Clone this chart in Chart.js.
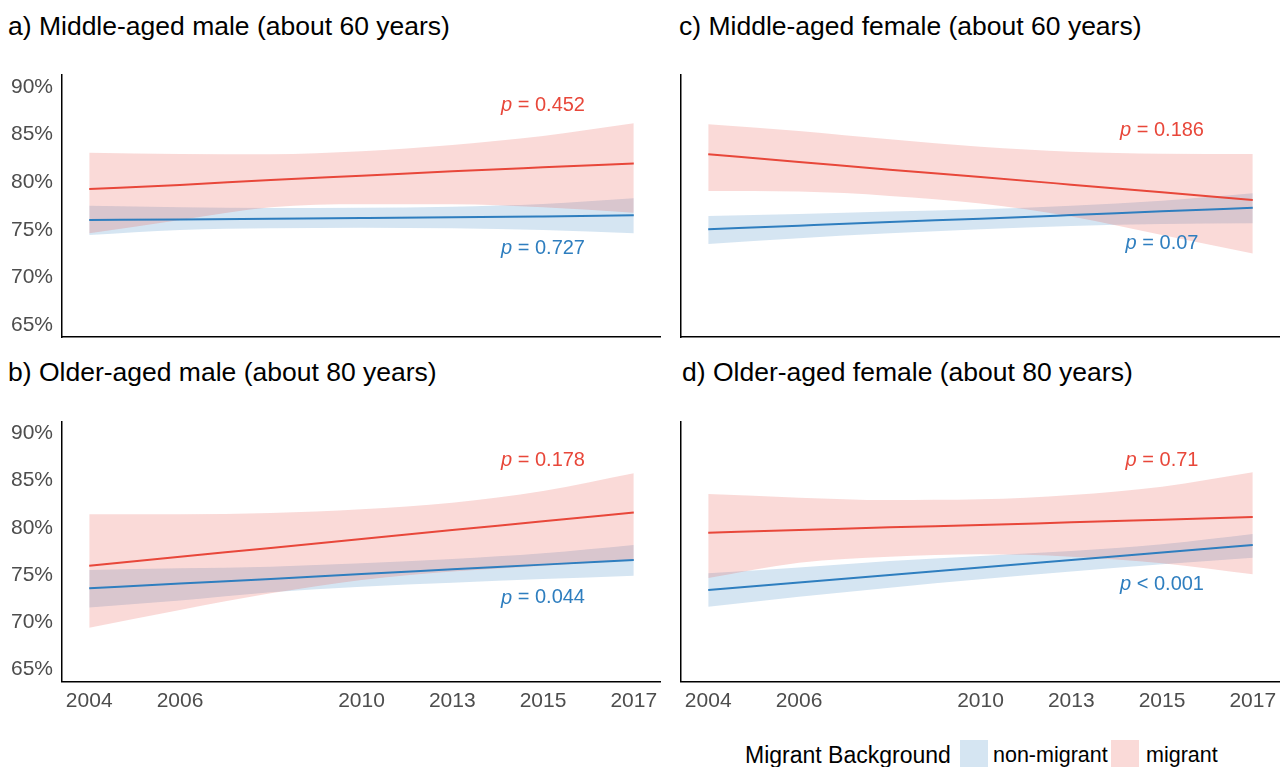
<!DOCTYPE html>
<html>
<head>
<meta charset="utf-8">
<script src="https://cdn.jsdelivr.net/npm/chart.js@4.4.1/dist/chart.umd.min.js"></script>
<style>
  body { margin: 0; background: #fff; font-family: "Liberation Sans", Arial, sans-serif; }
  #page { position: relative; width: 1280px; height: 767px; overflow: hidden; }
  canvas { position: absolute; }
  .title { position: absolute; font-size: 26.5px; line-height: 1; color: #000; white-space: nowrap; }
  .leg { position: absolute; line-height: 1; color: #000; white-space: nowrap; }
  .key { position: absolute; width: 28px; height: 28px; }
</style>
</head>
<body>
<div id="page">
  <div class="title" style="left:8px;top:13px">a) Middle-aged male (about 60 years)</div>
  <div class="title" style="left:679px;top:13px">c) Middle-aged female (about 60 years)</div>
  <div class="title" style="left:8px;top:359px">b) Older-aged male (about 80 years)</div>
  <div class="title" style="left:682px;top:359px">d) Older-aged female (about 80 years)</div>

  <canvas id="ca" style="left:0;top:60px" width="661" height="290"></canvas>
  <canvas id="cc" style="left:660px;top:60px" width="620" height="290"></canvas>
  <canvas id="cb" style="left:0;top:400px" width="661" height="320"></canvas>
  <canvas id="cd" style="left:660px;top:400px" width="620" height="320"></canvas>

  <div class="leg" style="left:745px;top:744px;font-size:23px">Migrant Background</div>
  <div class="key" style="left:960px;top:740px;background:rgba(46,126,191,0.2)"></div>
  <div class="leg" style="left:993px;top:745px;font-size:21.5px">non-migrant</div>
  <div class="key" style="left:1111px;top:740px;background:rgba(232,71,58,0.2)"></div>
  <div class="leg" style="left:1146px;top:745px;font-size:21.5px">migrant</div>
</div>

<script>
// survey waves on the x axis (wave 3 has no label)
const waves = [1, 2, 3, 4, 5, 6, 7];
const tickWaves = [1, 2, 4, 5, 6, 7];
const tickYears = ["2004", "2006", "2010", "2013", "2015", "2017"];
const yTicks = [65, 70, 75, 80, 85, 90];

// a) middle-aged male
const aRed = [79.27, 79.69, 80.22, 80.67, 81.13, 81.55, 81.96];
const aRedHi = [83.08, 82.94, 82.91, 83.22, 83.89, 84.83, 86.16];
const aRedLo = [74.62, 76.02, 77.35, 77.66, 77.66, 77.35, 76.79];
const aBlue = [76.02, 76.08, 76.15, 76.22, 76.30, 76.40, 76.51];
const aBlueHi = [77.52, 77.35, 77.28, 77.31, 77.42, 77.70, 78.29];
const aBlueLo = [74.45, 74.97, 75.15, 75.22, 75.15, 74.97, 74.62];
const aP = ["= 0.452", "= 0.727"];
const aPAt = [[6, 88.0], [6, 73.0]];

// c) middle-aged female
const cRed = [82.91, 82.11, 81.30, 80.53, 79.73, 78.92, 78.12];
const cRedHi = [86.06, 85.36, 84.48, 83.71, 83.19, 82.98, 82.94];
const cRedLo = [79.06, 79.00, 78.55, 77.75, 76.40, 74.45, 72.52];
const cBlue = [75.04, 75.43, 75.81, 76.16, 76.54, 76.93, 77.31];
const cBlueHi = [76.44, 76.65, 76.90, 77.14, 77.52, 78.05, 78.82];
const cBlueLo = [73.50, 74.10, 74.62, 75.04, 75.39, 75.60, 75.67];
const cP = ["= 0.186", "= 0.07"];
const cPAt = [[6, 85.45], [6, 73.6]];

// b) older-aged male
const bRed = [75.99, 76.94, 77.86, 78.81, 79.76, 80.68, 81.63];
const bRedHi = [81.42, 81.42, 81.56, 81.95, 82.66, 83.89, 85.76];
const bRedLo = [69.43, 71.30, 73.06, 74.47, 75.36, 75.99, 76.56];
const bBlue = [73.59, 74.09, 74.58, 75.11, 75.60, 76.10, 76.59];
const bBlueHi = [75.53, 75.71, 75.88, 76.24, 76.70, 77.30, 78.18];
const bBlueLo = [71.55, 72.29, 73.17, 73.77, 74.19, 74.58, 74.93];
const bP = ["= 0.178", "= 0.044"];
const bPAt = [[6, 87.17], [6, 72.57]];

// d) older-aged female
const dRed = [79.48, 79.76, 80.05, 80.29, 80.58, 80.86, 81.14];
const dRedHi = [83.57, 83.19, 82.94, 83.01, 83.47, 84.35, 85.87];
const dRedLo = [74.69, 76.30, 76.94, 77.19, 76.94, 76.24, 75.07];
const dBlue = [73.42, 74.21, 75.00, 75.80, 76.59, 77.38, 78.18];
const dBlueHi = [75.18, 75.80, 76.48, 77.01, 77.54, 78.25, 79.34];
const dBlueLo = [71.65, 72.71, 73.66, 74.54, 75.36, 76.13, 76.84];
const dP = ["= 0.71", "< 0.001"];
const dPAt = [[6, 87.17], [6, 74.05]];

const RED = "rgb(232,71,58)";
const BLUE = "rgb(46,126,191)";
const RED_FILL = "rgba(232,71,58,0.2)";
const BLUE_FILL = "rgba(46,126,191,0.2)";
const FONT = "'Liberation Sans', Arial, sans-serif";

const pts = (vals) => waves.map((w, i) => ({ x: w, y: vals[i] }));

// p-value annotations, placed in data units
const pLabels = {
  id: "pLabels",
  afterDatasetsDraw(chart, args, opts) {
    const ctx = chart.ctx;
    const xs = chart.scales.x, ys = chart.scales.y;
    opts.texts.forEach((t, i) => {
      const px = xs.getPixelForValue(opts.at[i][0]);
      const py = ys.getPixelForValue(opts.at[i][1]);
      ctx.save();
      ctx.textBaseline = "middle";
      ctx.fillStyle = i === 0 ? RED : BLUE;
      ctx.font = "italic 20px " + FONT;
      const wp = ctx.measureText("p ").width;
      ctx.font = "20px " + FONT;
      const wr = ctx.measureText(t).width;
      const x0 = px - (wp + wr) / 2;
      ctx.font = "italic 20px " + FONT;
      ctx.fillText("p", x0, py);
      ctx.font = "20px " + FONT;
      ctx.fillText(t, x0 + wp, py);
      ctx.restore();
    });
  }
};

function band(hi, lo, color) {
  return [
    { data: pts(hi), fill: "+1", backgroundColor: color, borderColor: "rgba(0,0,0,0)", borderWidth: 0, pointRadius: 0, cubicInterpolationMode: "monotone" },
    { data: pts(lo), fill: false, borderColor: "rgba(0,0,0,0)", borderWidth: 0, pointRadius: 0, cubicInterpolationMode: "monotone" }
  ];
}

function line(vals, color) {
  return { data: pts(vals), fill: false, borderColor: color, borderWidth: 2, pointRadius: 0, cubicInterpolationMode: "monotone" };
}

function panel(id, red, redHi, redLo, blue, blueHi, blueLo, texts, at, showX, showY, padTop, xHeight, yWidth) {
  new Chart(document.getElementById(id), {
    type: "line",
    data: {
      datasets: [
        line(red, RED),
        line(blue, BLUE),
        ...band(redHi, redLo, RED_FILL),
        ...band(blueHi, blueLo, BLUE_FILL)
      ]
    },
    options: {
      responsive: false,
      animation: false,
      layout: { padding: { top: padTop, left: 0, right: 0, bottom: 0 } },
      plugins: {
        legend: { display: false },
        tooltip: { enabled: false },
        pLabels: { texts: texts, at: at }
      },
      scales: {
        x: {
          type: "linear",
          min: 0.7,
          max: 7.3,
          grid: { display: false, drawTicks: false },
          border: { display: true, color: "#000", width: 1.5 },
          afterBuildTicks: (s) => { s.ticks = tickWaves.map((v) => ({ value: v })); },
          afterFit: (s) => { s.height = xHeight; s.paddingLeft = 0; s.paddingRight = 0; },
          ticks: {
            display: showX,
            autoSkip: false,
            maxRotation: 0,
            padding: 7,
            color: "#4d4d4d",
            font: { size: 21, family: FONT },
            callback: (v) => tickYears[tickWaves.indexOf(v)]
          }
        },
        y: {
          min: 63.75,
          max: 91.25,
          grid: { display: false, drawTicks: false },
          border: { display: true, color: "#000", width: 1.5 },
          afterBuildTicks: (s) => { s.ticks = yTicks.map((v) => ({ value: v })); },
          afterFit: (s) => { s.width = yWidth; s.paddingTop = 0; s.paddingBottom = 0; },
          ticks: {
            display: showY,
            padding: 9,
            color: "#4d4d4d",
            font: { size: 21, family: FONT },
            callback: (v) => v + "%"
          }
        }
      }
    },
    plugins: [pLabels]
  });
}

panel("ca", aRed, aRedHi, aRedLo, aBlue, aBlueHi, aBlueLo, aP, aPAt, false, true, 14.8, 13, 62);
panel("cc", cRed, cRedHi, cRedLo, cBlue, cBlueHi, cBlueLo, cP, cPAt, false, false, 14.8, 13, 21);
panel("cb", bRed, bRedHi, bRedLo, bBlue, bBlueHi, bBlueLo, bP, bPAt, true, true, 21.5, 38.7, 62);
panel("cd", dRed, dRedHi, dRedLo, dBlue, dBlueHi, dBlueLo, dP, dPAt, true, false, 21.5, 38.7, 21);
</script>
</body>
</html>
